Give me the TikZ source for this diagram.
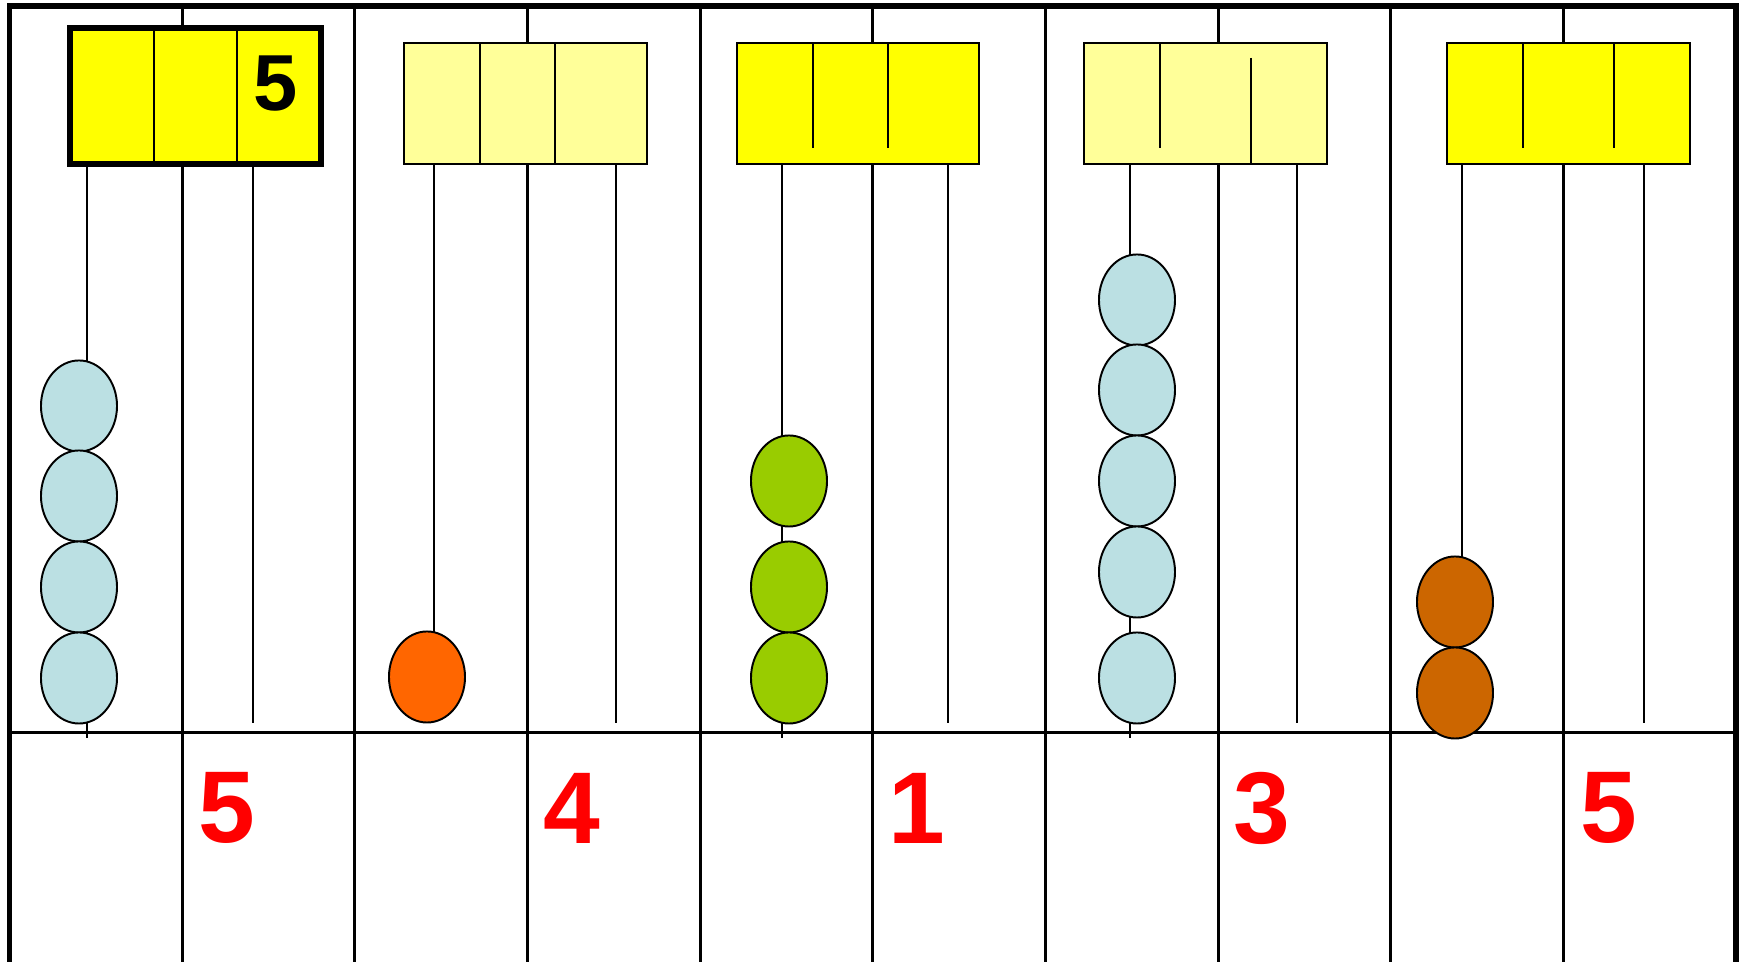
\documentclass[tikz,border=0pt]{standalone}
\usepackage{fontspec}
\setmainfont{Liberation Sans}
\usetikzlibrary{shapes.geometric}
\definecolor{gold}{HTML}{FFFF00}
\definecolor{paleyellow}{HTML}{FFFF99}
\definecolor{paleblue}{HTML}{BBE0E3}
\definecolor{orangebead}{HTML}{FF6600}
\definecolor{greenbead}{HTML}{99CC00}
\definecolor{brownbead}{HTML}{CC6600}
\begin{document}
\begin{tikzpicture}[x=0.01cm, y=-0.01cm,
    gridline/.style = {line width=0.85pt},
    rodline/.style = {line width=0.55pt},
    frame/.style = {line width=1.7pt},
    boxline/.style = {line width=0.6pt},
    bead/.style = {shape=ellipse, draw, line width=0.55pt, inner sep=0pt,
      minimum width=0.76cm, minimum height=0.91cm},
    digit/.style = {text=red, font=\fontsize{29}{29}\selectfont\bfseries}]
  \useasboundingbox (0,0) rectangle (1747,962);
  % columns and base line
  \foreach \k in {1,...,9}
    \draw[gridline] ({9.5+172.65*\k},6.5) -- ({9.5+172.65*\k},962);
  \draw[gridline] (9.5,733) -- (1736,733);
  % place value boxes
  \draw[line width=1.6pt, fill=gold] (70,28) rectangle (321,164);
  \draw[rodline] (154,28) -- (154,164) (237,28) -- (237,164);
  \node[font=\fontsize{22.6}{22.6}\selectfont\bfseries] (n1) at (276,84) {5};
  \draw[boxline, fill=paleyellow] (404,43) rectangle (647,164);
  \draw[rodline] (480,43) -- (480,164) (555,43) -- (555,164);
  \draw[boxline, fill=gold] (737,43) rectangle (979,164);
  \draw[rodline] (813,43) -- (813,148) (888,43) -- (888,148);
  \draw[boxline, fill=paleyellow] (1084,43) rectangle (1327,164);
  \draw[rodline] (1160,43) -- (1160,148) (1251,58) -- (1251,164);
  \draw[boxline, fill=gold] (1447,43) rectangle (1690,164);
  \draw[rodline] (1523,43) -- (1523,148) (1614,43) -- (1614,148);
  % rods
  \draw[rodline] (87,164) -- (87,738) (253,164) -- (253,723);
  \draw[rodline] (434,164) -- (434,640) (616,164) -- (616,723);
  \draw[rodline] (782,164) -- (782,738) (948,164) -- (948,723);
  \draw[rodline] (1130,164) -- (1130,738) (1297,164) -- (1297,723);
  \draw[rodline] (1462,164) -- (1462,600) (1644,164) -- (1644,723);
  % beads
  \foreach \y [count=\i] in {406,496,587,678}
    \node[bead, fill=paleblue] (a\i) at (79,\y) {};
  \node[bead, fill=orangebead] (b1) at (427,677) {};
  \foreach \y [count=\i] in {481,587,678}
    \node[bead, fill=greenbead] (c\i) at (789,\y) {};
  \foreach \y [count=\i] in {300,390,481,572,678}
    \node[bead, fill=paleblue] (d\i) at (1137,\y) {};
  \foreach \y [count=\i] in {602,693}
    \node[bead, fill=brownbead] (e\i) at (1455,\y) {};
  % numbers
  \foreach \x/\v [count=\i] in {227/5,572/4,917/1,1262/3,1609/5}
    \node[digit] (r\i) at (\x,808) {\v};
  \draw[frame] (9.5,962) -- (9.5,6.5) -- (1736,6.5) -- (1736,962);
\end{tikzpicture}
\end{document}
